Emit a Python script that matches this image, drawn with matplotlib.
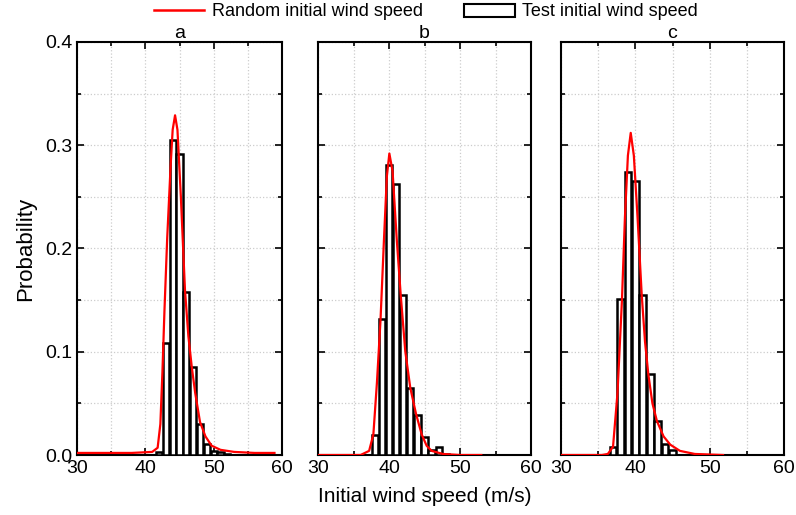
import numpy as np
import matplotlib.pyplot as plt
from matplotlib.lines import Line2D
from matplotlib.patches import Patch
from matplotlib.ticker import MultipleLocator

plt.rcParams['font.family'] = ['Liberation Sans', 'DejaVu Sans']

# bin centres (1 m/s bins) and test-data probabilities
bins_a = [42, 43, 44, 45, 46, 47, 48, 49, 50, 51, 52]
prob_a = [0.003, 0.108, 0.305, 0.292, 0.158, 0.085, 0.030, 0.011, 0.004, 0.003, 0.001]

bins_b = [38, 39, 40, 41, 42, 43, 44, 45, 46, 47, 48]
prob_b = [0.019, 0.132, 0.281, 0.262, 0.155, 0.065, 0.039, 0.017, 0.005, 0.008, 0.001]

bins_c = [37, 38, 39, 40, 41, 42, 43, 44, 45]
prob_c = [0.008, 0.151, 0.274, 0.265, 0.155, 0.078, 0.033, 0.011, 0.005]

# random initial wind speed density curves
curve_a_x = [30, 38, 41, 41.8, 42.2, 42.5, 42.8, 43.2, 43.7, 44.0, 44.35, 44.7, 45.2, 45.8, 46.3, 46.8,
             47.3, 48.0, 48.8, 49.7, 51, 53, 56, 58.9]
curve_a_y = [0.002, 0.002, 0.003, 0.007, 0.03, 0.08, 0.14, 0.21, 0.28, 0.315, 0.329, 0.315, 0.25, 0.16,
             0.115, 0.085, 0.06, 0.032, 0.018, 0.009, 0.005, 0.003, 0.002, 0.002]

curve_b_x = [30, 36, 37.2, 37.8, 38.3, 38.8, 39.3, 39.7, 40.05, 40.5, 41.1, 41.65, 42.3, 43.0, 43.8,
             44.6, 45.3, 46.0, 47.6, 50, 53]
curve_b_y = [0.0, 0.0, 0.004, 0.02, 0.07, 0.13, 0.21, 0.27, 0.292, 0.275, 0.208, 0.155, 0.10, 0.065,
             0.04, 0.02, 0.009, 0.004, 0.001, 0.0, 0.0]

curve_c_x = [30, 35.5, 36.3, 37.0, 37.6, 38.2, 38.6, 39.0, 39.38, 39.8, 40.3, 40.86, 41.3, 41.75, 42.3,
             42.9, 43.8, 44.7, 46, 48, 51.8]
curve_c_y = [0.0, 0.0, 0.001, 0.008, 0.06, 0.15, 0.23, 0.29, 0.312, 0.29, 0.23, 0.155, 0.11, 0.078,
             0.05, 0.033, 0.018, 0.01, 0.004, 0.001, 0.0]

panels = [
    ('a', bins_a, prob_a, curve_a_x, curve_a_y),
    ('b', bins_b, prob_b, curve_b_x, curve_b_y),
    ('c', bins_c, prob_c, curve_c_x, curve_c_y),
]

fig = plt.figure(figsize=(7.96, 5.15), dpi=100)
lefts = [77, 318, 561]
widths = [205, 213, 223]
axes = []
for (name, bx, by, cx, cy), l, w in zip(panels, lefts, widths):
    ax = fig.add_axes([l / 796, (515 - 455) / 515, w / 796, 413 / 515])
    ax.bar(bx, by, width=0.9, facecolor='white', edgecolor='black', lw=1.8, zorder=3)
    ax.plot(cx, cy, color='red', lw=1.6, zorder=4)
    ax.set_xlim(30, 60)
    ax.set_ylim(0, 0.4)
    ax.xaxis.set_major_locator(MultipleLocator(10))
    ax.xaxis.set_minor_locator(MultipleLocator(5))
    ax.yaxis.set_major_locator(MultipleLocator(0.1))
    ax.yaxis.set_minor_locator(MultipleLocator(0.05))
    ax.grid(True, which='both', color='#cccccc', linestyle=':', lw=0.9, zorder=0)
    ax.set_axisbelow(True)
    ax.tick_params(which='both', direction='in', top=True, right=True, labelsize=14, width=1.2)
    ax.tick_params(which='major', length=5)
    ax.tick_params(which='minor', length=3)
    for s in ax.spines.values():
        s.set_linewidth(1.5)
    ax.set_title(name, fontsize=14, pad=2)
    if name == 'a':
        ax.yaxis.set_major_formatter(plt.FuncFormatter(lambda v, p: f'{v:.1f}'))
        ax.set_ylabel('Probability', fontsize=16, labelpad=6)
    else:
        ax.set_yticklabels([])
    axes.append(ax)

axes[1].set_xlabel('Initial wind speed (m/s)', fontsize=15, labelpad=7)

handles = [Line2D([0], [0], color='red', lw=1.8),
           Patch(facecolor='white', edgecolor='black', lw=1.5)]
fig.legend(handles, ['Random initial wind speed', 'Test initial wind speed'],
           loc='center', bbox_to_anchor=(0.535, 1 - 12 / 515), ncol=2, frameon=False,
           fontsize=13, handlelength=2.8, columnspacing=2.3, handletextpad=0.4,
           borderpad=0)

fig.savefig('out.png', dpi=100)
